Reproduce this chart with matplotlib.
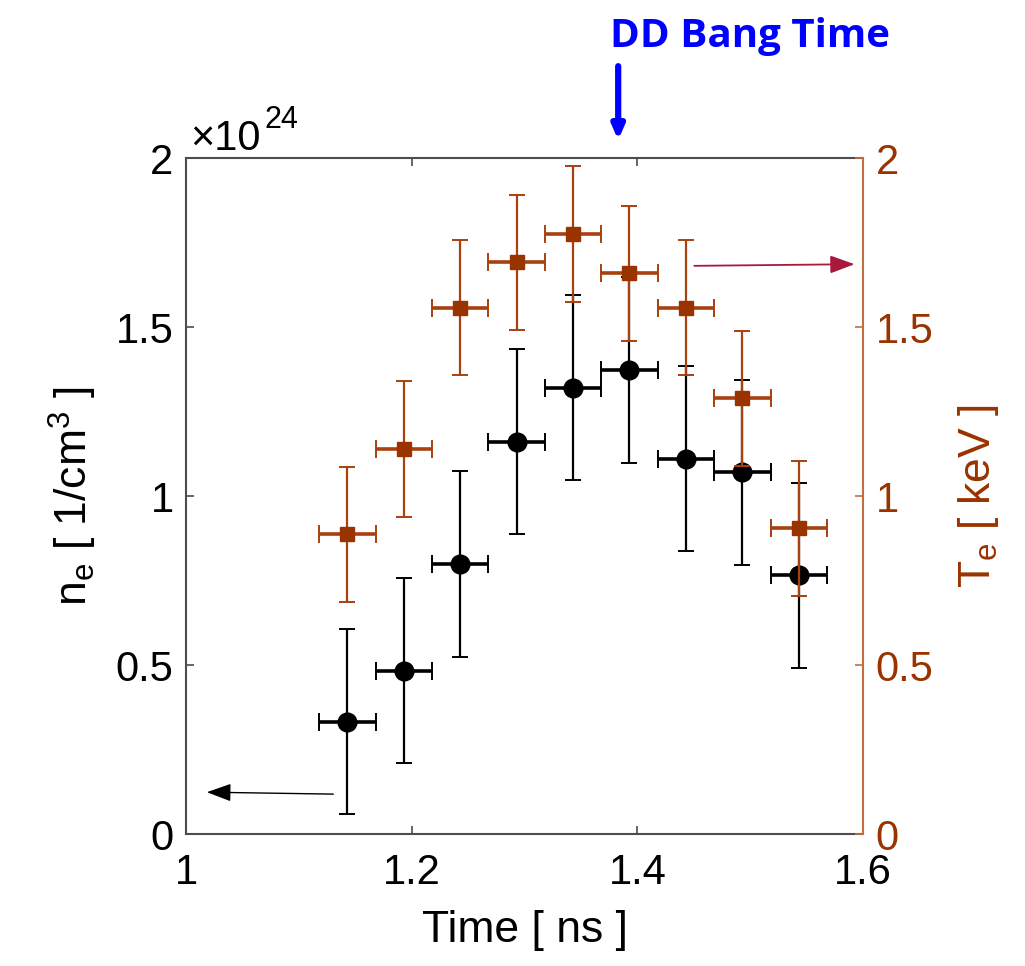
import numpy as np
import matplotlib.pyplot as plt

plt.rcParams['font.family'] = ['Liberation Sans', 'DejaVu Sans']
plt.rcParams['mathtext.fontset'] = 'custom'
plt.rcParams['mathtext.rm'] = 'Liberation Sans'

# data
time = [1.143, 1.193, 1.243, 1.293, 1.343, 1.393, 1.443, 1.493, 1.543]
time_err = [0.025] * 9
ne = [0.332, 0.483, 0.799, 1.161, 1.321, 1.373, 1.111, 1.070, 0.766]   # x1e24 1/cm^3
ne_err = [0.274] * 9
te = [0.887, 1.139, 1.557, 1.692, 1.775, 1.659, 1.557, 1.289, 0.904]   # keV
te_err = [0.2] * 9

orange = '#993300'
orange_line = '#A8400F'
spine_gray = '#4d4d4d'

fig = plt.figure(figsize=(10.25, 9.66), dpi=100)
ax = fig.add_axes([0.1815, 0.1366, 0.6605, 0.6998])
ax2 = ax.twinx()

# n_e (left axis)
ax.errorbar(time, ne, yerr=ne_err, fmt='none', ecolor='black', elinewidth=1.6,
            capsize=6, capthick=1.4, zorder=3)
ax.errorbar(time, ne, xerr=time_err, fmt='none', ecolor='black', elinewidth=2.6,
            capsize=6.5, capthick=1.4, zorder=3)
ax.plot(time, ne, 'o', color='black', markersize=13.5, zorder=4)

# T_e (right axis)
ax2.errorbar(time, te, yerr=te_err, fmt='none', ecolor=orange_line, elinewidth=1.6,
             capsize=6, capthick=1.4, zorder=3)
ax2.errorbar(time, te, xerr=time_err, fmt='none', ecolor=orange_line, elinewidth=2.6,
             capsize=6.5, capthick=1.4, zorder=3)
ax2.plot(time, te, 's', color=orange, markersize=10.5, zorder=4)

ax.set_xlim(1, 1.6)
ax.set_ylim(0, 2)
ax2.set_ylim(0, 2)
ax.set_xticks([1, 1.2, 1.4, 1.6])
ax.set_xticklabels(['1', '1.2', '1.4', '1.6'])
ax.set_yticks([0, 0.5, 1, 1.5, 2])
ax.set_yticklabels(['0', '0.5', '1', '1.5', '2'])
ax2.set_yticks([0, 0.5, 1, 1.5, 2])
ax2.set_yticklabels(['0', '0.5', '1', '1.5', '2'])

ax.tick_params(axis='x', direction='in', length=6, width=1.2, labelsize=30, pad=14,
               top=True, color=spine_gray)
ax.tick_params(axis='y', direction='in', length=6, width=1.2, labelsize=30, pad=9,
               color=spine_gray)
ax2.tick_params(axis='y', direction='in', length=6, width=1.2, labelsize=30, pad=9,
                color='#C0703F', labelcolor=orange)

for s in ['left', 'bottom', 'top']:
    ax.spines[s].set_color(spine_gray)
    ax.spines[s].set_linewidth(1.5)
for s in ['left', 'bottom', 'top']:
    ax2.spines[s].set_visible(False)
ax2.spines['right'].set_color('#C0703F')
ax2.spines['right'].set_linewidth(1.5)
ax.spines['right'].set_visible(False)

ax.set_xlabel('Time [ ns ]', fontsize=32, labelpad=12)
ax.set_ylabel(r'n$_\mathregular{e}$ [ 1/cm$^\mathregular{3}$ ]', fontsize=32, labelpad=12)
ax2.set_ylabel(r'T$_\mathregular{e}$ [ keV ]', fontsize=32, color=orange, labelpad=16)

# exponent label, drawn as two texts so the superscript keeps its size
fig.text(190 / 1025, 1 - 150 / 966, '\u00d710', fontsize=30, ha='left', va='baseline')
fig.text(265 / 1025, 1 - 128 / 966, '24', fontsize=22, ha='left', va='baseline')

# arrows pointing at the matching axes
ax.annotate('', xy=(1.016, 0.124), xytext=(1.133, 0.118),
            arrowprops=dict(arrowstyle='-|>,head_length=1.5,head_width=0.55',
                            color='black', lw=1.0), zorder=5)
ax.annotate('', xy=(1.595, 1.686), xytext=(1.448, 1.681),
            arrowprops=dict(arrowstyle='-|>,head_length=1.5,head_width=0.55',
                            color='#A8193C', lw=1.3), zorder=5)

# DD bang time marker
ax.annotate('', xy=(1.383, 2.045), xytext=(1.383, 2.28), annotation_clip=False,
            arrowprops=dict(arrowstyle='-|>,head_length=0.8,head_width=0.35',
                            color='#0000FF', lw=4.5))
fig.text(610 / 1025, 1 - 37 / 966, 'DD Bang Time', color='#0000FF', fontsize=29,
         fontweight='bold', family='Open Sans', ha='left', va='center')

fig.savefig('out.png', dpi=100)
